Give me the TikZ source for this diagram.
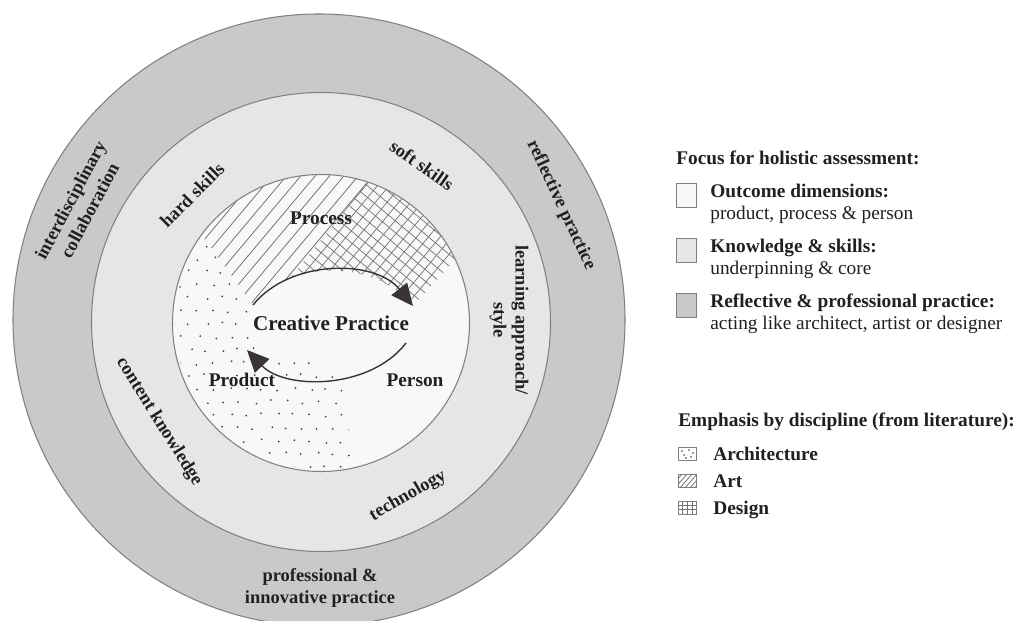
\documentclass[tikz,border=0pt]{standalone}
\usepackage{fontspec}
\setmainfont{Liberation Serif}
\usetikzlibrary{arrows.meta, positioning, calc}
\definecolor{ringout}{RGB}{200,201,203}
\definecolor{ringmid}{RGB}{230,230,231}
\definecolor{ringin}{RGB}{248,248,250}
\definecolor{rimgray}{RGB}{128,128,130}
\definecolor{ink}{RGB}{35,31,32}
\definecolor{hatchgray}{RGB}{115,115,117}

\begin{document}
\begin{tikzpicture}[x=0.02cm, y=-0.02cm,
    ring/.style={draw=rimgray, line width=0.6pt},
    ringlbl/.style={font=\fontsize{10.5}{12.5}\selectfont\bfseries, text=ink, align=center, inner sep=0pt},
    dimlbl/.style={font=\fontsize{11}{13}\selectfont\bfseries, text=ink, inner sep=0pt},
    keybox/.style={draw=rimgray, line width=0.6pt, minimum width=0.4cm, minimum height=0.48cm,
                   inner sep=0pt, anchor=north west},
    keyicon/.style={draw=rimgray, line width=0.5pt, minimum width=0.36cm, minimum height=0.26cm,
                    inner sep=0pt, anchor=north west},
    keytxt/.style={font=\fontsize{11}{13}\selectfont, text=ink, inner sep=0pt, anchor=base west},
    keyhead/.style={keytxt, font=\fontsize{11}{13}\selectfont\bfseries},
    hatch/.style={draw=hatchgray, line width=0.45pt},
    turn/.style={draw=ink!90, line width=0.8pt, -{Triangle[length=4.4mm, width=4mm]}},
  ]
  \useasboundingbox (0,0) rectangle (1021,621);
  \fill[white] (0,0) rectangle (1021,621);

  % rings
  \fill[ringout] (319,320) circle [radius=306];
  \draw[ring] (319,320) circle [radius=306];
  \filldraw[ring, fill=ringmid] (321,322) circle [radius=229.5];
  \filldraw[ring, fill=ringin] (321,323) circle [radius=148.5];

  % art and design hatching above the upper arc
  \begin{scope}
    \clip (321,323) circle [radius=148];
    \clip (253,305) .. controls (290,259) and (375,259) .. (413,306) -- (513,196)
          -- (513,150) -- (150,150) -- (150,164) -- cycle;
    \begin{scope}
      \clip (192,400) -- (434,100) -- (100,100) -- (100,400) -- cycle;
      \begin{scope}[shift={(321,323)}, rotate=50]
        \foreach \k in {-220,-209,...,220}
          \draw[hatch] (-260,\k) -- (260,\k);
      \end{scope}
    \end{scope}
    \begin{scope}
      \clip (192,400) -- (434,100) -- (560,100) -- (560,400) -- cycle;
      \begin{scope}[shift={(321,323)}, rotate=50]
        \foreach \k in {-225,-216,...,225} {
          \draw[hatch, line width=0.4pt] (-260,\k) -- (260,\k);
          \draw[hatch, line width=0.4pt] (\k,-260) -- (\k,260);
        }
      \end{scope}
    \end{scope}
  \end{scope}

  % architecture dots
  \begin{scope}
    \clip (321,323) circle [radius=146];
    \clip (253,300) -- (150,159) -- (150,480) -- (355,480) -- (342,372)
          -- (320,362) -- (268,360) -- (250,340) -- cycle;
    \pgfmathsetseed{11}
    \foreach \r in {0,...,24}
      \foreach \c in {0,...,14} {
        \pgfmathsetmacro\dx{158+\c*16+mod(\r,2)*8+2.5*rand}
        \pgfmathsetmacro\dy{168+\r*13+2*rand}
        \fill[ink!85] (\dx,\dy) circle [radius=1];
      }
  \end{scope}

  % cycle arrows
  \coordinate (up0) at (253,305);
  \coordinate (up1) at (413,306);
  \coordinate (lo0) at (406,343);
  \coordinate (lo1) at (247,350);
  \draw[turn] (up0) .. controls (290,259) and (375,259) .. (up1);
  \draw[turn] (lo0) .. controls (370,390) and (285,390) .. (lo1);

  \node[font=\fontsize{12}{14}\selectfont\bfseries, text=ink, inner sep=0pt] (creative) at (331,323) {Creative Practice};
  \node[dimlbl] (process) at (321,218) {Process};
  \node[dimlbl] (product) at (242,380) {Product};
  \node[dimlbl] (person) at (415,380) {Person};

  % ring labels
  \node[ringlbl, rotate=45] (hard) at (192,195) {hard skills};
  \node[ringlbl, rotate=-35] (soft) at (422,165) {soft skills};
  \node[ringlbl, rotate=-90] (learn) at (509,320) {learning approach/\\style};
  \node[ringlbl, rotate=30] (tech) at (408,496) {technology};
  \node[ringlbl, rotate=-58] (content) at (159,422) {content knowledge};
  \node[ringlbl, rotate=62] (collab) at (80,205) {interdisciplinary\\collaboration};
  \node[ringlbl, rotate=-65] (reflect) at (561,205) {reflective practice};
  \node[ringlbl] (profess) at (320,588) {professional \&\\innovative practice};

  % legend: focus
  \node[keyhead] (focus) at (676,165) {Focus for holistic assessment:};
  \node[keybox, fill=ringin] (keyin) at (676,183) {};
  \node[keyhead] (inhead) at (710,198) {Outcome dimensions:};
  \node[keytxt] (intxt) at (710,220) {product, process \& person};
  \node[keybox, fill=ringmid] (keymid) at (676,238) {};
  \node[keyhead] (midhead) at (710,253) {Knowledge \& skills:};
  \node[keytxt] (midtxt) at (710,275) {underpinning \& core};
  \node[keybox, fill=ringout] (keyout) at (676,293) {};
  \node[keyhead] (outhead) at (710,308) {Reflective \& professional practice:};
  \node[keytxt] (outtxt) at (710,330) {acting like architect, artist or designer};

  % legend: discipline
  \node[keyhead] (emph) at (678,426) {Emphasis by discipline (from literature):};
  \node[keyicon] (keyarch) at (678,447) {};
  \node[keyhead] (arch) at (713,460) {Architecture};
  \node[keyicon] (keyart) at (678,474) {};
  \node[keyhead] (art) at (713,487) {Art};
  \node[keyicon] (keydes) at (678,501) {};
  \node[keyhead] (des) at (713,514) {Design};

  \foreach \p in {(682,451),(689,450),(693,453),(684,455),(691,457),(686,458)}
    \fill[ink!85] \p circle [radius=0.8];
  \begin{scope}
    \clip (keyart.south west) rectangle (keyart.north east);
    \foreach \k in {-8,-3,...,22}
      \draw[hatch] ($(keyart.south west)+(\k,0)$) -- ++(14,-16);
  \end{scope}
  \foreach \k in {4,9,14}
    \draw[hatch, line width=0.4pt] ($(keydes.north west)+(\k,0)$) -- ++(0,13);
  \foreach \k in {4,8.5}
    \draw[hatch, line width=0.4pt] ($(keydes.north west)+(0,\k)$) -- ++(18,0);
\end{tikzpicture}
\end{document}
